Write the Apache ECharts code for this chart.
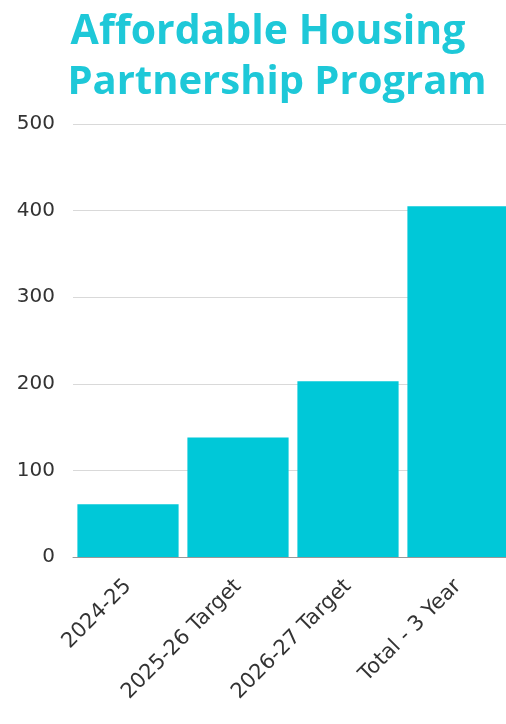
<!DOCTYPE html>
<html><head><meta charset="utf-8">
<script src="https://cdn.jsdelivr.net/npm/echarts@6/dist/echarts.min.js"></script>
<style>html,body{margin:0;padding:0;background:#fff}#c{width:506px;height:724px}</style>
</head><body><div id="c"></div>
<script>
const categories = ["2024-25", "2025-26 Target", "2026-27 Target", "Total - 3 Year"];
const values = [61, 138, 203, 405];
const yTicks = [0, 100, 200, 300, 400, 500];
const titleLines = ["Affordable Housing", "Partnership Program"];

const chart = echarts.init(document.getElementById('c'), null, {renderer: 'canvas'});
const tStyle = {fontFamily: 'Open Sans', fontWeight: 'bold', fontSize: 40, color: '#1ec8d8'};
chart.setOption({
  animation: false,
  backgroundColor: '#fff',
  title: [
    {text: titleLines[0], left: 263, textAlign: 'center', top: 7, textStyle: Object.assign({}, tStyle, {fontSize: 41})},
    {text: titleLines[1], left: 272, textAlign: 'center', top: 58, textStyle: tStyle}
  ],
  grid: {left: 73, width: 440, top: 124, bottom: 167, containLabel: false, outerBoundsMode: 'none'},
  xAxis: {
    type: 'category', data: categories,
    axisTick: {show: false},
    axisLine: {lineStyle: {color: '#999999', width: 1}},
    axisLabel: {rotate: 45, interval: 0, margin: 26, color: '#333', fontSize: 21, fontFamily: 'DejaVu Sans'}
  },
  yAxis: {
    type: 'value', min: yTicks[0], max: yTicks[yTicks.length - 1], interval: 100,
    axisLine: {show: false}, axisTick: {show: false},
    splitLine: {lineStyle: {color: '#d9d9d9', width: 1}},
    axisLabel: {color: '#333', fontSize: 20, fontFamily: 'DejaVu Sans', margin: 18, align: 'right'}
  },
  series: [{
    type: 'bar', data: values, barCategoryGap: '8%',
    itemStyle: {color: '#00c8d8'}
  }]
});
</script></body></html>
